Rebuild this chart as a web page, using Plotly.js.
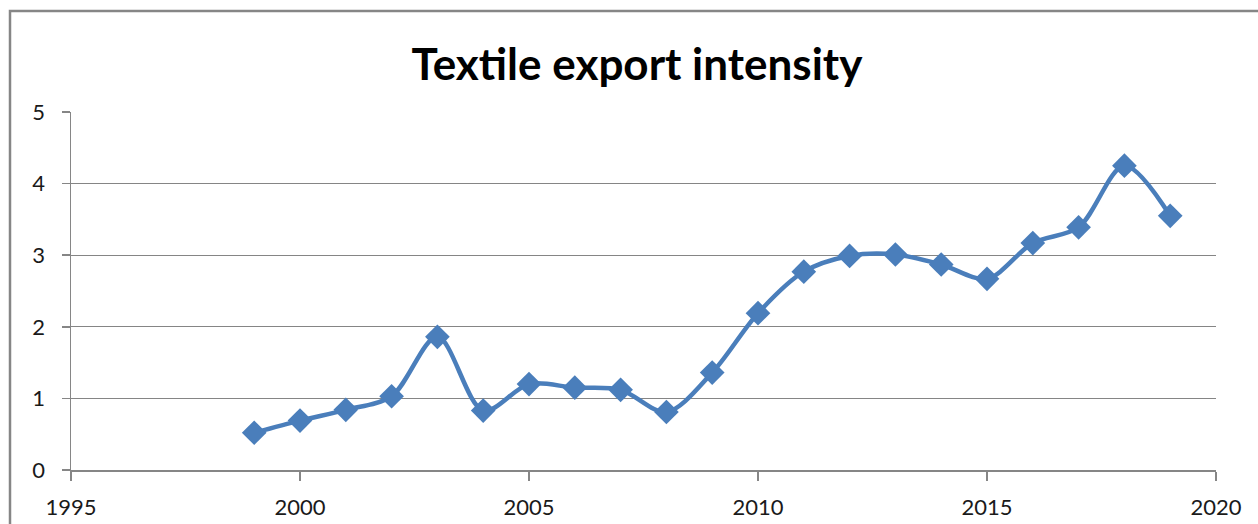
<!DOCTYPE html>
<html>
<head>
<meta charset="utf-8">
<script src="https://cdn.plot.ly/plotly-3.0.1.min.js"></script>
<style>html,body{margin:0;padding:0;background:#fff;}#chart{width:1258px;height:524px;}</style>
</head>
<body>
<div id="chart"></div>
<script>
const years = [1999, 2000, 2001, 2002, 2003, 2004, 2005, 2006, 2007, 2008, 2009, 2010, 2011, 2012, 2013, 2014, 2015, 2016, 2017, 2018, 2019];
const intensity = [0.52, 0.69, 0.84, 1.03, 1.86, 0.83, 1.20, 1.15, 1.12, 0.81, 1.36, 2.19, 2.77, 2.99, 3.01, 2.87, 2.67, 3.17, 3.39, 4.25, 3.55];
const xTicks = [1995, 2000, 2005, 2010, 2015, 2020];
const yTicks = [0, 1, 2, 3, 4, 5];
const chartTitle = 'Textile export intensity';

const W = 1258, H = 524;
const L = 71, R = 1216, T = 112, B = 470;
const pw = R - L, ph = B - T;

const trace = {
  x: years, y: intensity, type: 'scatter', mode: 'lines+markers',
  line: {color: '#4A7EBB', width: 4.5, shape: 'spline', smoothing: 0.9},
  marker: {symbol: 'diamond', size: 19, color: '#4A7EBB'},
  cliponaxis: false, hoverinfo: 'x+y'
};

const layout = {
  width: W, height: H,
  margin: {l: L, r: W - R, t: T, b: H - B, pad: 0},
  paper_bgcolor: '#ffffff', plot_bgcolor: '#ffffff',
  showlegend: false,
  font: {family: 'Lato, "Open Sans", sans-serif', color: '#1a1a1a', size: 22},
  title: {text: '<b>' + chartTitle + '</b>', font: {family: 'Lato, sans-serif', size: 44, color: '#000'},
          xref: 'paper', x: (637 - L) / pw, xanchor: 'center', yref: 'container', y: 1 - 65 / H, yanchor: 'middle'},
  xaxis: {range: [1995, 2020], tickvals: xTicks, ticktext: xTicks.map(String), showgrid: false, zeroline: false,
          showline: true, linecolor: '#868686', linewidth: 1.5, ticks: 'outside', ticklen: 9, tickcolor: '#868686', tickwidth: 1.5,
          ticklabelstandoff: 8, tickfont: {size: 22, color: '#1a1a1a'}},
  yaxis: {range: [0, 5], tickvals: yTicks, ticktext: yTicks.map(String), showgrid: true, gridcolor: '#858585', gridwidth: 1,
          zeroline: false, showline: true, linecolor: '#868686', linewidth: 1.5, ticks: 'outside', ticklen: 8, tickcolor: '#868686', tickwidth: 1.5,
          ticklabelstandoff: 12, tickfont: {size: 22, color: '#1a1a1a'}},
  shapes: [{type: 'rect', xref: 'paper', yref: 'paper', layer: 'below',
            x0: (10 - L) / pw, x1: (1300 - L) / pw, y0: (B - 560) / ph, y1: (B - 11) / ph,
            line: {color: '#868686', width: 2.5}, fillcolor: 'rgba(0,0,0,0)'}]
};

Plotly.newPlot('chart', [trace], layout, {displayModeBar: false, staticPlot: true});
</script>
</body>
</html>
